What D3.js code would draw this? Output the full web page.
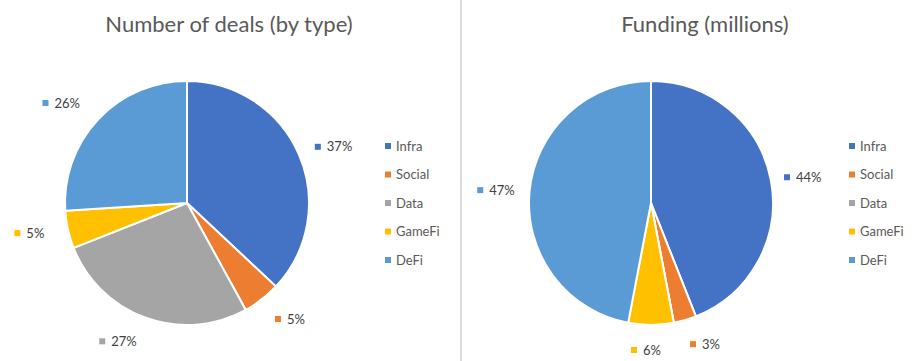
<!DOCTYPE html>
<html><head><meta charset="utf-8">
<script src="https://cdn.jsdelivr.net/npm/d3@7"></script>
<style>body{margin:0;background:#fff;} svg{display:block;}</style>
</head><body>
<svg id="c" width="922" height="361"></svg>
<script>
const categories = ["Infra", "Social", "Data", "GameFi", "DeFi"];
const dealsPct = [37, 5, 27, 5, 26];
const fundingPct = [44, 3, 0, 6, 47];
const titles = ["Number of deals (by type)", "Funding (millions)"];
const colors = ["#4472C4", "#ED7D31", "#A5A5A5", "#FFC000", "#5B9BD5"];

const svg = d3.select("#c");
const font = "Lato, 'Open Sans', sans-serif";
const color = d3.scaleOrdinal().domain(categories).range(colors);

svg.append("line").attr("x1", 461).attr("x2", 461).attr("y1", 0).attr("y2", 361)
  .attr("stroke", "#d9d9d9").attr("stroke-width", 2);

const panels = [
  {vals: dealsPct, cx: 187, cy: 203, tx: 229, legX: 388},
  {vals: fundingPct, cx: 651, cy: 203, tx: 705, legX: 852}
];
const R = 122;
const pie = d3.pie().sort(null).value(d => d.v);
const arc = d3.arc().innerRadius(0).outerRadius(R);
// outside-end label placement (approximating the spreadsheet's layout)
function labelPos(d) {
  const a = (d.startAngle + d.endAngle) / 2;
  const dx = Math.sin(a), dy = -Math.cos(a);
  const r = R + 25 - 11 * Math.pow(dx, 8);
  const x = dx * r + 18 * Math.sign(dx) * Math.min(1, Math.abs(dx) * 4);
  const y = dy * r;
  return [x, y];
}

panels.forEach((p, i) => {
  const data = categories.map((c, j) => ({c, v: p.vals[j]}));
  svg.append("text").attr("x", p.tx).attr("y", 32).attr("text-anchor", "middle")
    .attr("font-family", font).attr("font-size", 22).attr("fill", "#595959").text(titles[i]);
  const g = svg.append("g").attr("transform", `translate(${p.cx},${p.cy})`);
  const arcs = pie(data);
  g.selectAll("path").data(arcs).join("path").attr("d", arc)
    .attr("fill", d => color(d.data.c)).attr("stroke", "#fff").attr("stroke-width", 2);
  const lab = g.selectAll("g.lab").data(arcs.filter(d => d.data.v > 0)).join("g").attr("class", "lab")
    .attr("transform", d => { const [x, y] = labelPos(d); return `translate(${x},${y})`; });
  lab.append("rect").attr("x", -20).attr("y", -3).attr("width", 6).attr("height", 6)
    .attr("fill", d => color(d.data.c));
  lab.append("text").attr("x", -8).attr("y", 0).attr("dy", "0.35em")
    .attr("font-family", font).attr("font-size", 13).attr("fill", "#404040")
    .text(d => d.data.v + "%");
  const leg = svg.append("g").selectAll("g").data(categories).join("g")
    .attr("transform", (d, j) => `translate(${p.legX},${146 + j * 28.5})`);
  leg.append("rect").attr("x", -3).attr("y", -3).attr("width", 6).attr("height", 6).attr("fill", d => color(d));
  leg.append("text").attr("x", 8).attr("dy", "0.35em").attr("font-family", font).attr("font-size", 13)
    .attr("fill", "#595959").text(d => d);
});
</script>
</body></html>
